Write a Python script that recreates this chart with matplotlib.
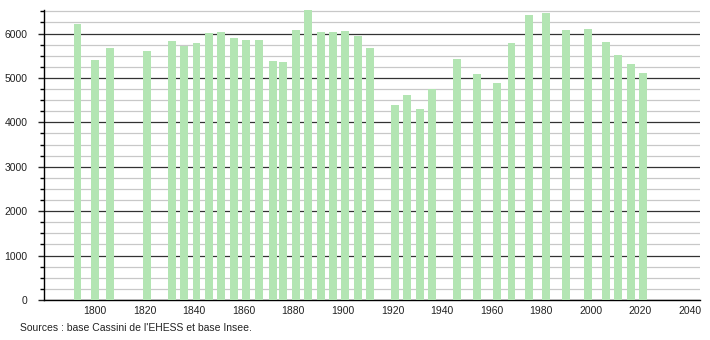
import matplotlib
matplotlib.use("Agg")
import matplotlib.pyplot as plt
from matplotlib.ticker import MultipleLocator

plt.rcParams["font.family"] = ["Liberation Sans", "DejaVu Sans"]

# census years and population
years = [1793, 1800, 1806, 1821, 1831, 1836, 1841, 1846, 1851, 1856,
         1861, 1866, 1872, 1876, 1881, 1886, 1891, 1896, 1901, 1906,
         1911, 1921, 1926, 1931, 1936, 1946, 1954, 1962, 1968, 1975,
         1982, 1990, 1999, 2006, 2011, 2016, 2021]
population = [6220, 5410, 5680, 5610, 5830, 5720, 5790, 6010, 6040, 5900,
              5860, 5860, 5390, 5360, 6080, 6520, 6040, 6040, 6060, 5950,
              5680, 4400, 4620, 4290, 4750, 5430, 5100, 4890, 5790, 6420,
              6470, 6090, 6110, 5820, 5520, 5320, 5120]

x_ticks = list(range(1800, 2041, 20))
y_ticks = list(range(0, 6001, 1000))
source = "Sources : base Cassini de l'EHESS et base Insee."

BAR = "#b3e5b3"

fig = plt.figure(figsize=(7.1, 3.4), dpi=100)
ax = fig.add_axes([44 / 710, 40 / 340, 656 / 710, 290 / 340])

ax.bar(years, population, width=3.2, color=BAR, zorder=3)

ax.set_xlim(1779.5, 2044)
ax.set_ylim(0, 6530)

ax.yaxis.set_major_locator(MultipleLocator(1000))
ax.yaxis.set_minor_locator(MultipleLocator(250))
ax.set_xticks(x_ticks)
ax.set_yticks(y_ticks)
ax.grid(axis="y", which="minor", color="#c8c8c8", lw=0.9, zorder=1)
ax.grid(axis="y", which="major", color="#333333", lw=0.9, zorder=2)

for side in ("top", "right"):
    ax.spines[side].set_visible(False)
ax.spines["left"].set_linewidth(1.0)
ax.spines["bottom"].set_linewidth(1.0)

ax.tick_params(axis="x", length=0, pad=4, labelsize=7.5, colors="#222222")
ax.tick_params(axis="y", which="major", length=4, width=1, pad=8,
               labelsize=7.5, colors="#222222")
ax.tick_params(axis="y", which="minor", length=3, width=1)
for lab in ax.get_xticklabels() + ax.get_yticklabels():
    lab.set_color("#222222")

fig.text(20 / 710, 1 - 328 / 340, source, fontsize=7.5, va="center",
         ha="left", color="#222222")

fig.savefig("out.png", dpi=100)
